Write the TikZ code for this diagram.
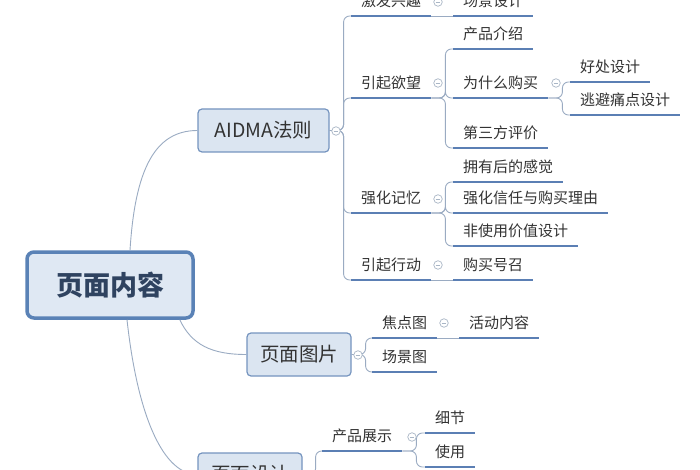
\documentclass[tikz,border=0pt]{standalone}
\usepackage{fontspec}
\setmainfont{Noto Sans CJK SC}
\definecolor{connc}{HTML}{9AABC2}
\definecolor{ulc}{HTML}{5B7FB4}
\definecolor{topb}{HTML}{7594BF}
\definecolor{topf}{HTML}{DBE5F1}
\definecolor{rootb}{HTML}{5A82B6}
\definecolor{rootf}{HTML}{DFE8F3}
\definecolor{roott}{HTML}{2F4360}
\definecolor{txt}{HTML}{333333}
\definecolor{foldc}{HTML}{A9B6C6}
\begin{document}
\begin{tikzpicture}[x=1pt,y=-1pt,
  conn/.style={draw=connc, line width=0.9pt, rounded corners=6pt},
  curve/.style={draw=connc, line width=0.9pt},
  uline/.style={draw=ulc, line width=2.4pt},
  leaf/.style={anchor=south west, inner xsep=10pt, inner ysep=6.3pt, text height=12pt, text depth=3pt,
    font=\fontsize{15}{18}\selectfont, text=txt},
  topic/.style={rectangle, rounded corners=4pt, draw=topb, fill=topf, line width=1.2pt,
    minimum height=43pt, inner sep=0pt, font=\fontsize{19.5}{22}\selectfont, text=txt},
  rootnode/.style={rectangle, rounded corners=7pt, draw=rootb, fill=rootf, line width=3.5pt,
    minimum width=166pt, minimum height=66pt, inner sep=0pt, font=\fontsize{27}{30}\selectfont\bfseries, text=roott},
  fold/.style={circle, draw=foldc, fill=white, line width=0.7pt, minimum size=8.5pt, inner sep=0pt,
    path picture={\draw[foldc, line width=0.7pt] ([xshift=-2.3pt]path picture bounding box.center) -- ([xshift=2.3pt]path picture bounding box.center);}}
]
\useasboundingbox (0,0) rectangle (700,470);
\clip (0,0) rectangle (700,470);
\fill[white] (0,0) rectangle (700,470);

% main topics
\node[rootnode] (root) at (110,285) {页面内容};
\node[topic, minimum width=131pt] (A) at (263.5,130.5) {AIDMA法则};
\node[topic, minimum width=104pt] (P) at (299,354.5) {页面图片};
\node[topic, minimum width=104pt] (B) at (250,474.5) {页面设计};

% leaves
\node[leaf] (L1) at (351,16) {激发兴趣};
\node[leaf] (L2) at (351,98) {引起欲望};
\node[leaf] (L3) at (351,213) {强化记忆};
\node[leaf] (L4) at (351,280) {引起行动};
\node[leaf] (M1) at (453,16) {场景设计};
\node[leaf] (M2) at (453,49) {产品介绍};
\node[leaf] (M3) at (453,98) {为什么购买};
\node[leaf] (M4) at (453,148) {第三方评价};
\node[leaf] (M5) at (453,182) {拥有后的感觉};
\node[leaf] (M6) at (453,213) {强化信任与购买理由};
\node[leaf] (M7) at (453,246) {非使用价值设计};
\node[leaf] (M8) at (453,280) {购买号召};
\node[leaf] (N1) at (570,82) {好处设计};
\node[leaf] (N2) at (570,115) {逃避痛点设计};
\node[leaf] (P1) at (372,338) {焦点图};
\node[leaf] (P2) at (372,372) {场景图};
\node[leaf] (P3) at (459,338) {活动内容};
\node[leaf] (Q1) at (322,451) {产品展示};
\node[leaf] (Q2) at (425,433) {细节};
\node[leaf] (Q3) at (425,467) {使用};

% root connectors
\draw[curve] ([xshift=20pt]root.north) .. controls +(5,-80) and +(-43,0) .. (A.west);
\draw[curve] ([xshift=-15pt]root.south east) .. controls +(12,25) and +(-35,0) .. (P.west);
\draw[curve] ([xshift=17pt]root.south) .. controls +(11,100) and +(-33,0) .. (B.west);

% AIDMA children
\foreach \c in {L1,L2,L3,L4}
  \draw[conn] (A.east) -- ++(14,0) |- (\c.south west);
\draw[conn] (L1.south east) -- (M1.south west);
\foreach \c in {M2,M3,M4}
  \draw[conn] (L2.south east) -- ++(14,0) |- (\c.south west);
\foreach \c in {M5,M6,M7}
  \draw[conn] (L3.south east) -- ++(14,0) |- (\c.south west);
\draw[conn] (L4.south east) -- (M8.south west);
\foreach \c in {N1,N2}
  \draw[conn] (M3.south east) -- ++(14,0) |- (\c.south west);

% picture children
\foreach \c in {P1,P2}
  \draw[conn] (P.east) -- ++(14,0) |- (\c.south west);
\draw[conn] (P1.south east) -- (P3.south west);

% design children
\draw[conn] (B.east) -- ++(13,0) |- (Q1.south west);
\foreach \c in {Q2,Q3}
  \draw[conn] (Q1.south east) -- ++(14,0) |- (\c.south west);

% underlines
\foreach \n in {L1,L2,L3,L4,M1,M2,M3,M4,M5,M6,M7,M8,N1,N2,P1,P2,P3,Q1,Q2,Q3}
  \draw[uline] (\n.south west) -- (\n.south east);

% fold markers
\node[fold] (fA) at (336,131) {};
\node[fold] (fL1) at (438,2) {};
\node[fold] (fL2) at (438,83) {};
\node[fold] (fL3) at (438,199) {};
\node[fold] (fL4) at (438,265) {};
\node[fold] (fM3) at (556,83) {};
\node[fold] (fP) at (358,355) {};
\node[fold] (fP1) at (444,323) {};
\node[fold] (fQ1) at (412,437) {};
\end{tikzpicture}
\end{document}
